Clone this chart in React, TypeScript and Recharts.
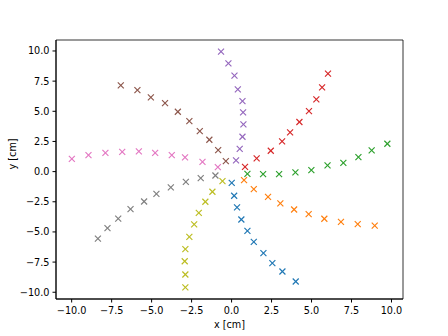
import { ReferenceArea, Scatter, ScatterChart, XAxis, YAxis } from "recharts";

type Pt = [number, number];

// one spiral arm per colour (x, y in cm)
const blueArm: Pt[] = [
  [0.01, -0.93], [0.16, -2.0], [0.34, -2.97], [0.61, -3.97], [0.99, -4.91],
  [1.39, -5.82], [1.99, -6.76], [2.55, -7.59], [3.18, -8.28], [4.01, -9.11],
];
const orangeArm: Pt[] = [
  [0.78, -0.71], [1.39, -1.45], [2.28, -2.09], [3.05, -2.64], [3.91, -3.14],
  [4.82, -3.53], [5.8, -3.91], [6.84, -4.16], [7.89, -4.36], [8.95, -4.47],
];
const greenArm: Pt[] = [
  [0.99, -0.18], [1.97, -0.21], [2.97, -0.21], [3.99, -0.07], [4.99, 0.12],
  [6.0, 0.52], [6.99, 0.72], [7.93, 1.2], [8.76, 1.76], [9.74, 2.31],
];
const redArm: Pt[] = [
  [0.84, 0.4], [1.57, 1.09], [2.45, 1.73], [3.16, 2.5], [3.66, 3.25],
  [4.24, 4.11], [4.84, 5.02], [5.3, 5.99], [5.66, 6.99], [6.03, 8.12],
];
const purpleArm: Pt[] = [
  [0.28, 0.93], [0.51, 1.89], [0.68, 2.89], [0.74, 3.91], [0.72, 4.91],
  [0.68, 5.85], [0.39, 6.82], [0.18, 7.95], [-0.2, 8.98], [-0.66, 9.94],
];
const brownArm: Pt[] = [
  [-0.36, 0.87], [-0.84, 1.78], [-1.39, 2.64], [-1.99, 3.36], [-2.64, 4.19],
  [-3.36, 4.96], [-4.16, 5.68], [-5.05, 6.16], [-5.89, 6.76], [-6.93, 7.15],
];
const pinkArm: Pt[] = [
  [-0.86, 0.37], [-1.82, 0.81], [-2.91, 1.18], [-3.74, 1.37], [-4.78, 1.56],
  [-5.8, 1.68], [-6.84, 1.64], [-7.89, 1.56], [-8.95, 1.37], [-9.99, 1.06],
];
const grayArm: Pt[] = [
  [-1.01, -0.32], [-1.93, -0.54], [-2.86, -0.85], [-3.8, -1.31], [-4.7, -1.84],
  [-5.47, -2.48], [-6.32, -3.11], [-7.09, -3.89], [-7.76, -4.69], [-8.36, -5.55],
];
const oliveArm: Pt[] = [
  [-0.57, -0.79], [-1.2, -1.67], [-1.64, -2.5], [-2.05, -3.42], [-2.34, -4.38],
  [-2.64, -5.41], [-2.89, -6.43], [-2.93, -7.43], [-2.89, -8.53], [-2.89, -9.59],
];

const arms = [blueArm, orangeArm, greenArm, redArm, purpleArm, brownArm, pinkArm, grayArm, oliveArm];
const colors = ["#1f77b4", "#ff7f0e", "#2ca02c", "#d62728", "#9467bd", "#8c564b", "#e377c2", "#7f7f7f", "#bcbd22"];

const ticks = [-10, -7.5, -5, -2.5, 0, 2.5, 5, 7.5, 10];
const xDomain: [number, number] = [-10.98, 10.72];
const yDomain: [number, number] = [-10.56, 10.91];

const fmt = (v: number) => v.toFixed(1).replace("-", "\u2212");
const font = "DejaVu Sans, sans-serif";

const cross = (color: string) => (props: any) => {
  const { cx, cy } = props;
  const r = 3;
  return (
    <g stroke={color} strokeWidth={1.15}>
      <line x1={cx - r} y1={cy - r} x2={cx + r} y2={cy + r} />
      <line x1={cx - r} y1={cy + r} x2={cx + r} y2={cy - r} />
    </g>
  );
};

export default function App() {
  return (
    <div style={{ position: "absolute", left: 0, top: 0, background: "#fff" }}>
      <ScatterChart width={448} height={336} margin={{ top: 40, right: 45, bottom: 0, left: 0 }}>
        <XAxis
          type="number"
          dataKey="x"
          domain={xDomain}
          ticks={ticks}
          tickFormatter={fmt}
          allowDataOverflow
          height={37}
          tickSize={3.5}
          tickMargin={4.5}
          stroke="#000"
          tick={{ fill: "#000", fontSize: 9.7, fontFamily: font }}
          label={{ value: "x [cm]", position: "insideBottom", offset: 8, fill: "#000", fontSize: 9.7, fontFamily: font }}
        />
        <YAxis
          type="number"
          dataKey="y"
          domain={yDomain}
          ticks={ticks}
          tickFormatter={fmt}
          allowDataOverflow
          width={56}
          tickSize={3.5}
          tickMargin={3}
          stroke="#000"
          tick={{ fill: "#000", fontSize: 9.7, fontFamily: font }}
          label={{ value: "y [cm]", angle: -90, position: "insideLeft", offset: 13, fill: "#000", fontSize: 9.7, fontFamily: font }}
        />
        <ReferenceArea
          x1={xDomain[0]}
          x2={xDomain[1]}
          y1={yDomain[0]}
          y2={yDomain[1]}
          fill="none"
          stroke="#000"
          strokeWidth={0.8}
          ifOverflow="visible"
        />
        {arms.map((arm, i) => (
          <Scatter
            key={i}
            data={arm.map(([x, y]) => ({ x, y }))}
            shape={cross(colors[i])}
            isAnimationActive={false}
          />
        ))}
      </ScatterChart>
    </div>
  );
}
